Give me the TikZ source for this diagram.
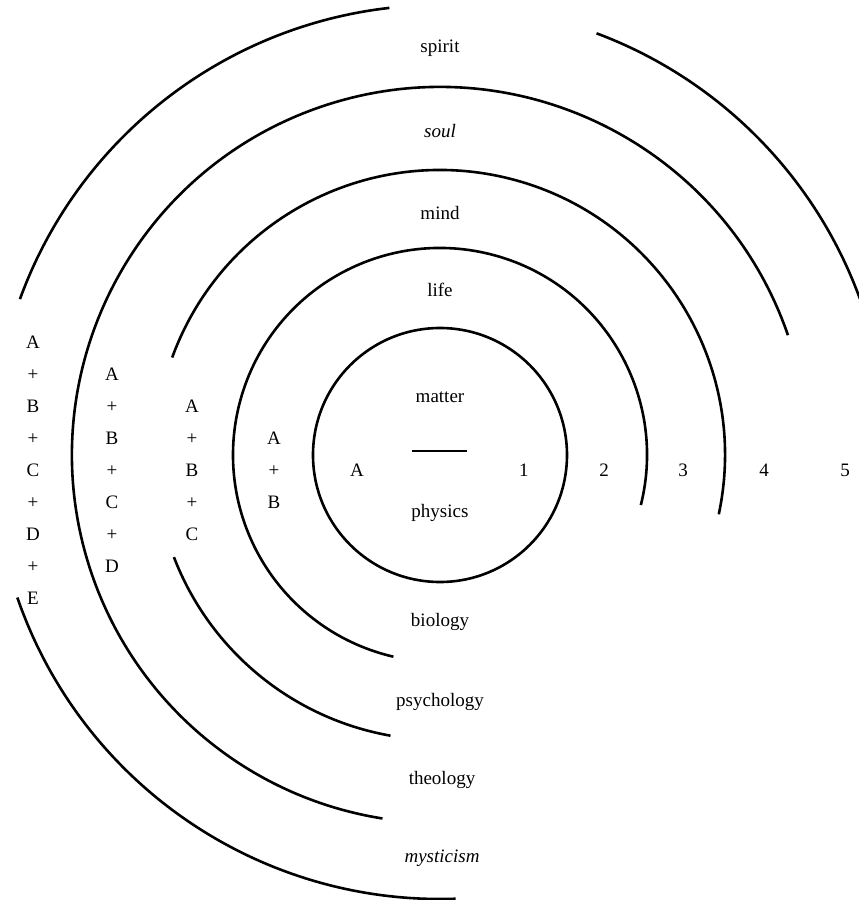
\documentclass[tikz,border=0pt]{standalone}
\usepackage{fontspec}
\setmainfont{Liberation Serif}
\usepackage{tikz}

\begin{document}
\begin{tikzpicture}[
  x=1pt, y=1pt,
  ring/.style={line width=2.6pt},
  lbl/.style={font={\fontsize{19}{32}\selectfont}, inner sep=0pt},
  stack/.style={lbl, align=center}
]
\useasboundingbox (-440,-445) rectangle (419,455);
% inner circle and the four rings
\draw[ring] (0,0) circle[radius=127];
\draw[ring] (-14:207) arc[start angle=-14, end angle=257, radius=207];
\draw[ring] (-12:285) arc[start angle=-12, end angle=160, radius=285];
\draw[ring] (201:285) arc[start angle=201, end angle=260, radius=285];
\draw[ring] (19:368) arc[start angle=19, end angle=261, radius=368];
\draw[ring] (0,3) ++(20:447) arc[start angle=20, end angle=69.5, radius=447];
\draw[ring] (0,3) ++(96.5:447) arc[start angle=96.5, end angle=160, radius=447];
\draw[ring] (0,3) ++(199:447) arc[start angle=199, end angle=272, radius=447];
% upper names
\node[lbl] (spirit) at (0,407) {spirit};
\node[lbl] (soul)   at (0,324) {\itshape soul};
\node[lbl] (mind)   at (0,242) {mind};
\node[lbl] (life)   at (0,165) {life};
% matter over physics
\node[lbl] (matter)  at (0,58)  {matter};
\coordinate (barL) at (-28,4);
\coordinate (barR) at (27,4);
\draw[line width=1.8pt] (barL) -- (barR);
\node[lbl] (physics) at (0,-58) {physics};
% lower names
\node[lbl] (biology)    at (0,-167) {biology};
\node[lbl] (psychology) at (0,-247) {psychology};
\node[lbl] (theology)   at (2,-325) {theology};
\node[lbl] (mysticism)  at (2,-403) {\itshape mysticism};
% levels along the row
\node[lbl] (lvA) at (-83,-15) {A};
\foreach \n/\x in {1/84, 2/164, 3/243, 4/324, 5/405}
  \node[lbl] (lv\n) at (\x,-15) {\n};
% sums on the left
\node[stack] (sumB) at (-166,-15) {A\\+\\B};
\node[stack] (sumC) at (-248,-15) {A\\+\\B\\+\\C};
\node[stack] (sumD) at (-328,-15) {A\\+\\B\\+\\C\\+\\D};
\node[stack] (sumE) at (-407,-15) {A\\+\\B\\+\\C\\+\\D\\+\\E};
\end{tikzpicture}
\end{document}
